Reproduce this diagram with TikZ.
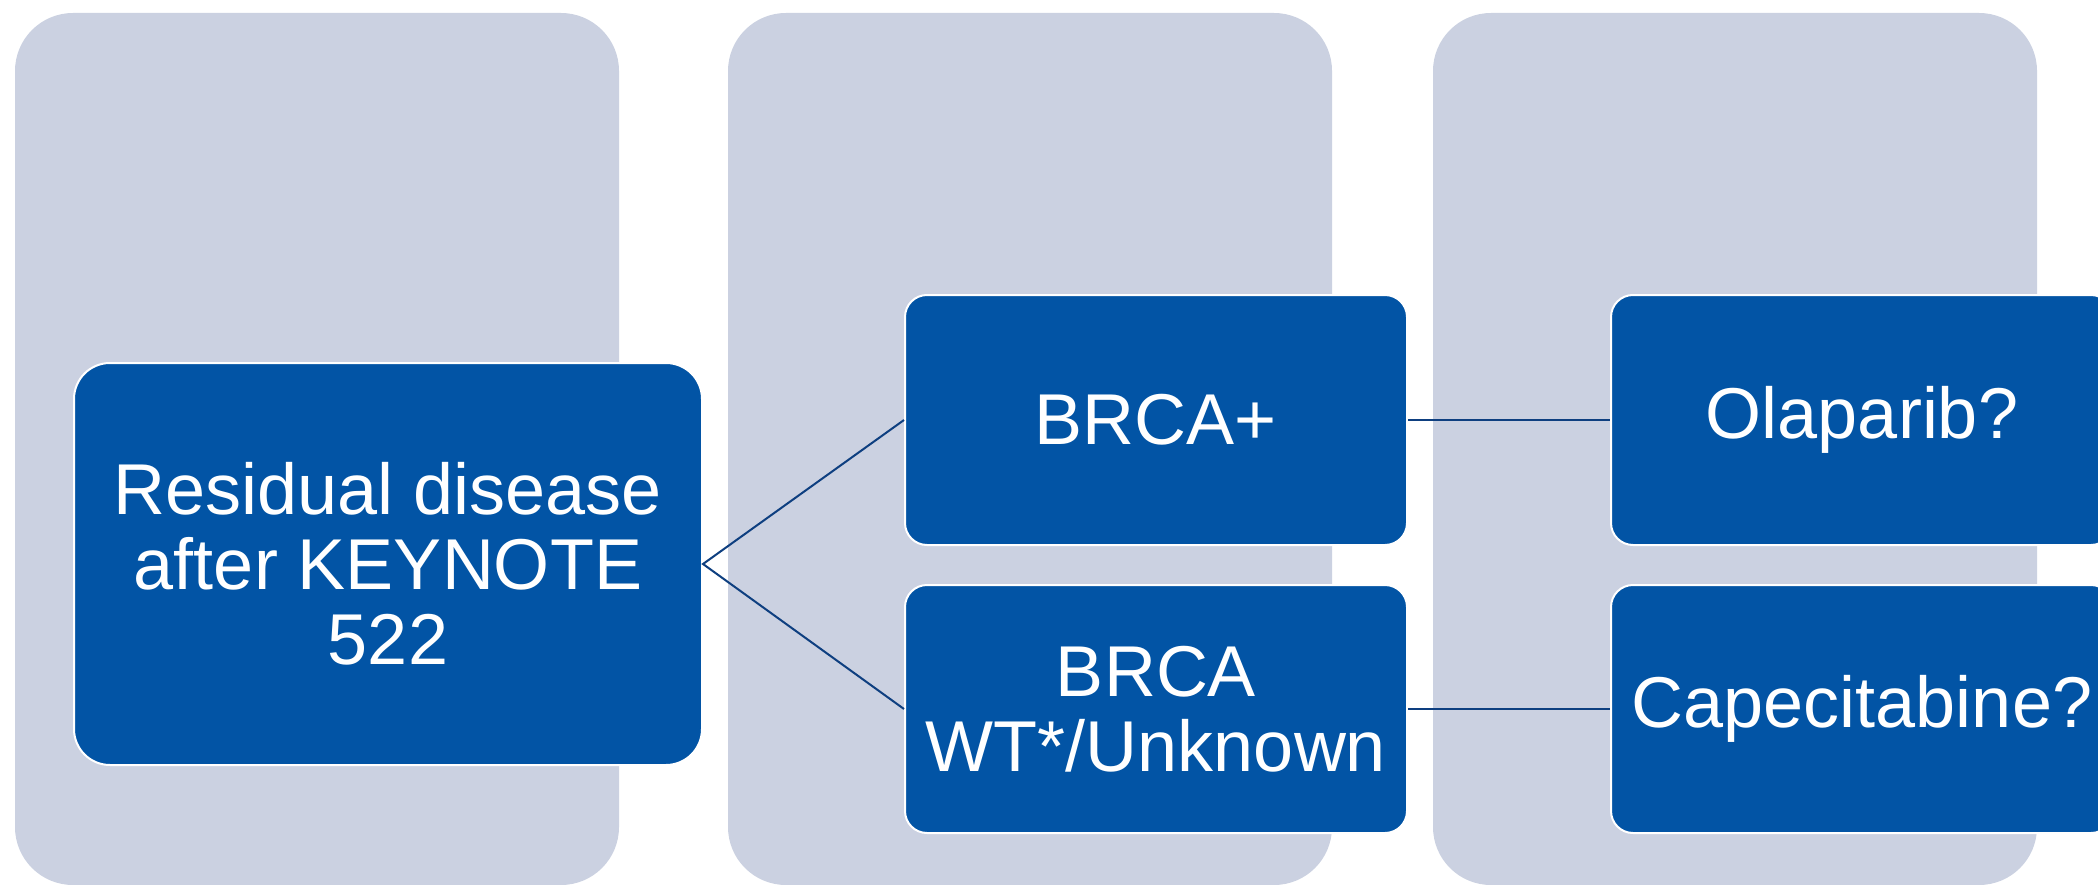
\documentclass[tikz,border=0pt]{standalone}
\usepackage{fontspec}
\setmainfont{Liberation Sans}
\definecolor{colbg}{HTML}{CBD1E1}
\definecolor{boxblue}{HTML}{0254A5}
\definecolor{linkblue}{HTML}{0E3F80}
\begin{document}
\begin{tikzpicture}[x=1pt,y=-1pt,
  colbox/.style={fill=colbg, draw=none, rounded corners=58pt, inner sep=0pt,
    minimum width=604pt, minimum height=872pt},
  bluebox/.style={draw=white, line width=2pt, fill=boxblue, rounded corners=22pt,
    text=white, font=\fontsize{72}{75}\selectfont, align=center,
    minimum width=502pt, minimum height=250pt, inner sep=0pt},
  link/.style={draw=linkblue, line width=2pt}]
\clip (0,0) rectangle (2098,885);
\fill[white] (0,0) rectangle (2098,885);
% background columns
\node[colbox] (c1) at (317,449) {};
\node[colbox] (c2) at (1030,449) {};
\node[colbox] (c3) at (1735,449) {};
% boxes
\node[bluebox, rounded corners=36pt, minimum width=628pt, minimum height=402pt] (main) at (388,564)
  {Residual disease\\after KEYNOTE\\522};
\node[bluebox] (brca) at (1156,420) {BRCA+};
\node[bluebox, minimum height=248pt] (wt) at (1156,709) {BRCA\\WT*/Unknown};
\node[bluebox] (olap) at (1862,420) {Olaparib?};
\node[bluebox, minimum height=248pt] (cape) at (1862,709) {Capecitabine?};
% connectors
\draw[link] (brca.west) -- (main.east) -- (wt.west);
\draw[link] (brca.east) -- (olap.west);
\draw[link] (wt.east) -- (cape.west);
\end{tikzpicture}
\end{document}
